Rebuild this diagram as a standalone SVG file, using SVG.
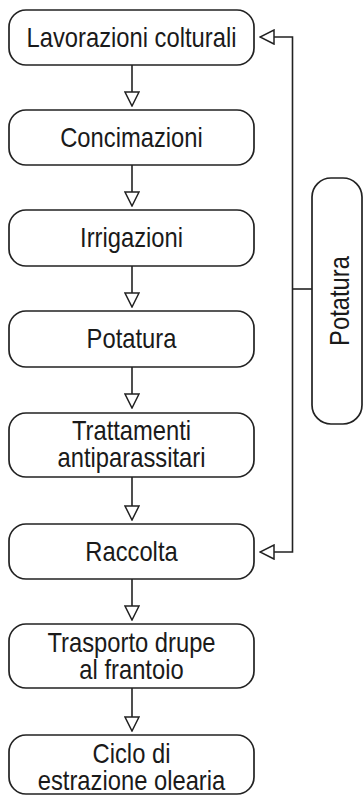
<svg xmlns="http://www.w3.org/2000/svg" width="364" height="796" viewBox="0 0 364 796">
<defs>
<marker id="tri" viewBox="0 0 16 16" refX="15" refY="8" markerWidth="16" markerHeight="16" markerUnits="userSpaceOnUse" orient="auto">
<path d="M1,1 L15,8 L1,15 Z" fill="#fff" stroke="#222" stroke-width="1.5" stroke-linejoin="miter"/>
</marker>
</defs>
<style>
.box{fill:#fff;stroke:#222;stroke-width:1.7}
.t{font-family:"Liberation Sans",Arial,Helvetica,sans-serif;font-size:27px;fill:#1a1a1a;text-anchor:middle}
.c{fill:none;stroke:#222;stroke-width:1.6}
</style>
<rect width="364" height="796" fill="#fff"/>
<g id="connectors">
<path class="c" d="M132,65 V106" marker-end="url(#tri)"/>
<path class="c" d="M132,165 V206" marker-end="url(#tri)"/>
<path class="c" d="M132,266 V307" marker-end="url(#tri)"/>
<path class="c" d="M132,367 V408" marker-end="url(#tri)"/>
<path class="c" d="M132,477 V520" marker-end="url(#tri)"/>
<path class="c" d="M132,579 V620" marker-end="url(#tri)"/>
<path class="c" d="M132,688 V731" marker-end="url(#tri)"/>
<path class="c" d="M292.5,289 V37 H260" marker-end="url(#tri)"/>
<path class="c" d="M292.5,289 V552 H260" marker-end="url(#tri)"/>
<path class="c" d="M292.5,289 H312"/>
</g>
<g id="n1"><rect class="box" x="9" y="10" width="245" height="55" rx="17"/><g transform="translate(131.5,0) scale(0.88,1)"><text class="t" x="0" y="47">Lavorazioni colturali</text></g></g>
<g id="n2"><rect class="box" x="9" y="110" width="245" height="55" rx="17"/><g transform="translate(131.5,0) scale(0.88,1)"><text class="t" x="0" y="147">Concimazioni</text></g></g>
<g id="n3"><rect class="box" x="9" y="210" width="245" height="56" rx="17"/><g transform="translate(131.5,0) scale(0.88,1)"><text class="t" x="0" y="247.5">Irrigazioni</text></g></g>
<g id="n4"><rect class="box" x="9" y="311" width="245" height="56" rx="17"/><g transform="translate(131.5,0) scale(0.88,1)"><text class="t" x="0" y="348.5">Potatura</text></g></g>
<g id="n5"><rect class="box" x="9" y="413" width="245" height="64" rx="17"/><g transform="translate(131.5,0) scale(0.88,1)"><text class="t"><tspan x="0" y="440">Trattamenti</tspan><tspan x="0" y="467">antiparassitari</tspan></text></g></g>
<g id="n6"><rect class="box" x="9" y="524" width="245" height="55" rx="17"/><g transform="translate(131.5,0) scale(0.88,1)"><text class="t" x="0" y="561">Raccolta</text></g></g>
<g id="n7"><rect class="box" x="9" y="624" width="245" height="64" rx="17"/><g transform="translate(131.5,0) scale(0.88,1)"><text class="t"><tspan x="0" y="652">Trasporto drupe</tspan><tspan x="0" y="679">al frantoio</tspan></text></g></g>
<g id="n8"><rect class="box" x="9" y="735" width="245" height="59" rx="17"/><g transform="translate(131.5,0) scale(0.88,1)"><text class="t"><tspan x="0" y="763">Ciclo di</tspan><tspan x="0" y="790">estrazione olearia</tspan></text></g></g>
<g id="n9"><rect class="box" x="312" y="178" width="50" height="246" rx="19"/><g transform="translate(349,301) rotate(-90) scale(0.88,1)"><text class="t" x="0" y="0">Potatura</text></g></g>
</svg>
